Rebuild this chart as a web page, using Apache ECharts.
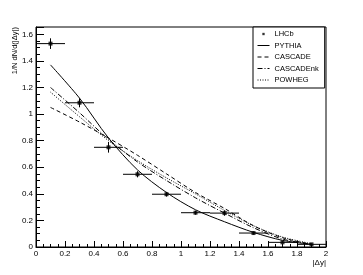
<!DOCTYPE html>
<html>
<head>
<meta charset="utf-8">
<script src="https://cdn.jsdelivr.net/npm/echarts@6/dist/echarts.min.js"></script>
<style>html,body{margin:0;padding:0;background:#fff}#c{width:363px;height:275px}</style>
</head>
<body>
<div id="c"></div>
<script>
const dy = [0.1, 0.3, 0.5, 0.7, 0.9, 1.1, 1.3, 1.5, 1.7, 1.9];
const binHalf = 0.1;
const lhcb = [1.53, 1.085, 0.75, 0.547, 0.397, 0.258, 0.255, 0.105, 0.035, 0.02];
const lhcbErr = [0.04, 0.034, 0.04, 0.023, 0.018, 0.015, 0.02, 0.012, 0.008, 0.006];
const pythia = [1.37, 1.12, 0.82, 0.58, 0.41, 0.28, 0.19, 0.11, 0.05, 0.02];
const cascade = [1.05, 0.94, 0.82, 0.69, 0.55, 0.41, 0.29, 0.16, 0.07, 0.02];
const cascadeNk = [1.20, 1.01, 0.81, 0.64, 0.50, 0.37, 0.255, 0.145, 0.06, 0.02];
const powheg = [1.165, 0.98, 0.80, 0.65, 0.52, 0.40, 0.275, 0.16, 0.075, 0.025];
const legendNames = ['LHCb', 'PYTHIA', 'CASCADE', 'CASCADEnk', 'POWHEG'];

const FONT = '"Liberation Sans", Arial, sans-serif';
const zip = (xs, ys) => xs.map((x, i) => [x, ys[i]]);
const noSymbol = { color: 'rgba(0,0,0,0)', borderColor: 'rgba(0,0,0,0)', borderWidth: 0 };

function curve(name, ys, type) {
  return {
    name: name, type: 'line', data: zip(dy, ys), symbol: 'none', smooth: 0.3,
    lineStyle: { color: '#000', width: 1, type: type }, itemStyle: { color: '#000' }, z: 3
  };
}

const chart = echarts.init(document.getElementById('c'), null, { renderer: 'canvas' });
chart.setOption({
  animation: false,
  backgroundColor: '#fff',
  textStyle: { fontFamily: FONT, color: '#000' },
  grid: { left: 36, right: 37, top: 27, bottom: 28, show: true, borderColor: '#000', borderWidth: 1, backgroundColor: 'transparent' },
  xAxis: {
    type: 'value', min: 0, max: 2, interval: 0.2,
    axisLine: { show: true, lineStyle: { color: '#000', width: 1 } },
    axisTick: { show: true, inside: true, length: 6, lineStyle: { color: '#000' } },
    minorTick: { show: true, splitNumber: 4, length: 3, lineStyle: { color: '#000' } },
    splitLine: { show: false },
    axisLabel: { color: '#000', fontSize: 8, fontFamily: FONT, margin: 3 }
  },
  yAxis: {
    type: 'value', min: 0, max: 1.655, interval: 0.2,
    axisLine: { show: true, lineStyle: { color: '#000', width: 1 } },
    axisTick: { show: true, inside: true, length: 8, lineStyle: { color: '#000' } },
    minorTick: { show: true, splitNumber: 4, length: 4, lineStyle: { color: '#000' } },
    splitLine: { show: false },
    axisLabel: { color: '#000', fontSize: 8, fontFamily: FONT, margin: 3, showMaxLabel: false }
  },
  legend: {
    orient: 'vertical', left: 253, top: 27,
    backgroundColor: '#fff', borderColor: '#000', borderWidth: 1, borderRadius: 0,
    padding: [3, 6, 4, 4], itemGap: 3.5, itemWidth: 12, itemHeight: 7,
    lineStyle: { width: 1 },
    textStyle: { fontSize: 7.5, fontFamily: FONT, color: '#000' },
    data: [
      { name: legendNames[0], icon: 'path://M0,0 M12,12 M4,4 L8,4 L8,8 L4,8 Z' },
      { name: legendNames[1], itemStyle: noSymbol },
      { name: legendNames[2], itemStyle: noSymbol },
      { name: legendNames[3], itemStyle: noSymbol },
      { name: legendNames[4], itemStyle: noSymbol }
    ]
  },
  series: [
    curve(legendNames[1], pythia, 'solid'),
    curve(legendNames[2], cascade, [4, 3]),
    curve(legendNames[3], cascadeNk, [5, 2, 1, 2]),
    curve(legendNames[4], powheg, [1, 1.5]),
    {
      name: 'LHCb err', type: 'custom', z: 4,
      data: dy.map((x, i) => [x, lhcb[i], lhcbErr[i]]),
      encode: { x: 0, y: 1 },
      renderItem: function (params, api) {
        const x = api.value(0), y = api.value(1), e = api.value(2);
        const l = api.coord([x - binHalf, y]), r = api.coord([x + binHalf, y]);
        const t = api.coord([x, y + e]), b = api.coord([x, y - e]);
        const st = { stroke: '#000', lineWidth: 1 };
        return { type: 'group', children: [
          { type: 'line', shape: { x1: l[0], y1: l[1], x2: r[0], y2: r[1] }, style: st },
          { type: 'line', shape: { x1: t[0], y1: t[1], x2: b[0], y2: b[1] }, style: st }
        ] };
      }
    },
    {
      name: legendNames[0], type: 'scatter', z: 5,
      data: zip(dy, lhcb), symbol: 'rect', symbolSize: 4,
      itemStyle: { color: '#000' }
    }
  ],
  graphic: [
    { type: 'text', x: 15, y: 27, rotation: Math.PI / 2,
      style: { text: '1/N dN/d(|Δy|)', font: '7.5px ' + FONT, fill: '#000', textAlign: 'right', textVerticalAlign: 'middle' } },
    { type: 'text', x: 326, y: 263,
      style: { text: '|Δy|', font: '8px ' + FONT, fill: '#000', textAlign: 'right', textVerticalAlign: 'middle' } }
  ]
});
</script>
</body>
</html>
